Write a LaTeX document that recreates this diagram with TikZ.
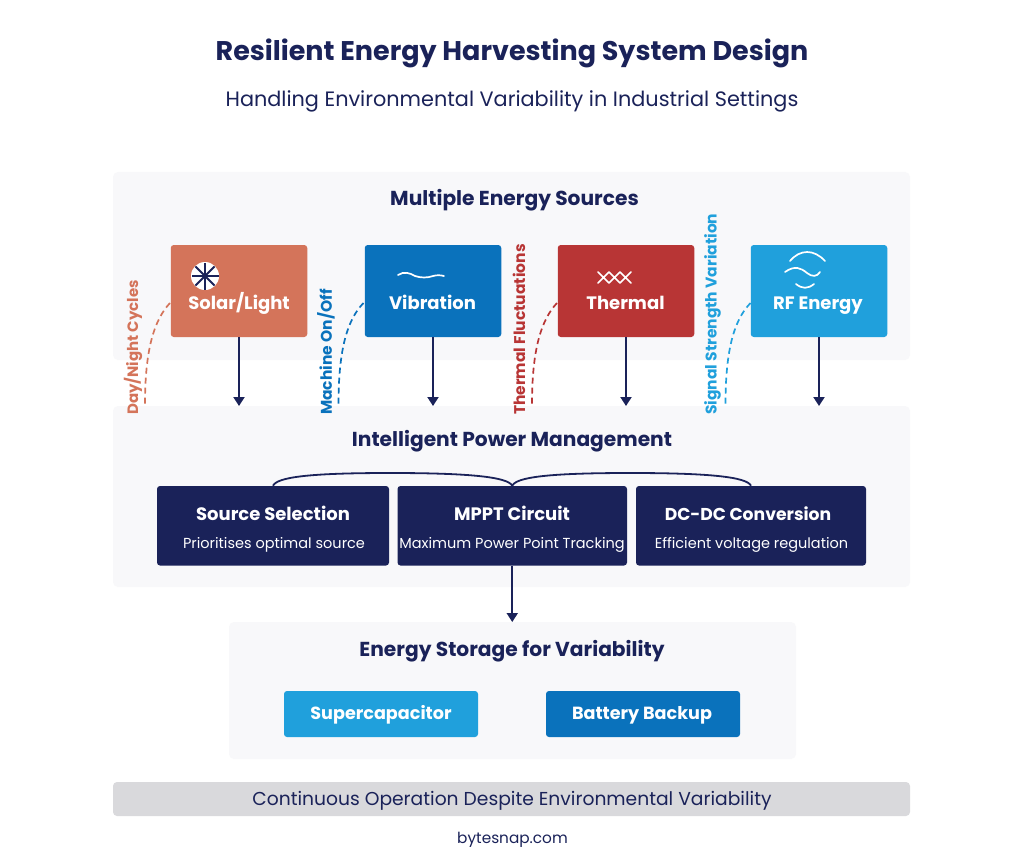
\documentclass[tikz,border=0pt]{standalone}
\usepackage{fontspec}
\setmainfont{Poppins}
\usetikzlibrary{arrows.meta}
\definecolor{navy}{HTML}{1A2259}
\definecolor{panelc}{HTML}{F8F8FA}
\definecolor{solarc}{HTML}{D4745A}
\definecolor{vibc}{HTML}{0A72BC}
\definecolor{thermc}{HTML}{B83535}
\definecolor{rfc}{HTML}{20A0DC}
\definecolor{barc}{HTML}{D9D9DC}
\tikzset{
 x=1pt,y=-1pt,
 txt/.style={inner sep=0pt,anchor=base},
 panel/.style={fill=panelc,rounded corners=5pt,draw=none},
 srcbox/.style={rounded corners=3pt,minimum width=136.5pt,minimum height=92pt,inner sep=0pt},
 srclabel/.style={txt,text=white,font=\fontsize{18}{22}\selectfont\bfseries},
 pmbox/.style={fill=navy,rounded corners=3pt,minimum height=79.5pt,inner sep=0pt},
 pmhead/.style={txt,text=white,font=\fontsize{18}{22}\selectfont\bfseries},
 pmsub/.style={txt,text=white,font=\fontsize{14.5}{18}\selectfont},
 storebox/.style={rounded corners=3pt,minimum width=194pt,minimum height=46pt,inner sep=0pt},
 storetext/.style={txt,text=white,font=\fontsize{17.6}{22}\selectfont\bfseries},
 heading/.style={txt,text=navy,font=\fontsize{20.2}{24}\selectfont\bfseries},
 flow/.style={draw=navy,line width=2pt,-{Triangle[length=9pt,width=11pt]}},
 varline/.style={line width=1.7pt,dash pattern=on 6pt off 4pt},
 varlabel/.style={rotate=90,font=\fontsize{15.5}{18}\selectfont\bfseries,inner sep=0pt,anchor=west},
 iconline/.style={draw=white,line width=1.7pt,line cap=round},
}
\begin{document}
\begin{tikzpicture}
\useasboundingbox (0,0) rectangle (1024,861);
\fill[white] (0,0) rectangle (1024,861);
% panels
\path[panel] (113,172) rectangle (910,360);
\path[panel] (113,406) rectangle (910,587);
\path[panel] (229,622) rectangle (796,759);
% titles
\node[txt,text=navy,font=\fontsize{27}{32}\selectfont\bfseries] (title) at (512,61) {Resilient Energy Harvesting System Design};
\node[txt,text=navy,font=\fontsize{20.8}{25}\selectfont] (subtitle) at (512,107) {Handling Environmental Variability in Industrial Settings};
\node[heading] (h1) at (514.5,205) {Multiple Energy Sources};
\node[heading] (h2) at (512,446) {Intelligent Power Management};
\node[heading] (h3) at (512,656) {Energy Storage for Variability};
% sources
\node[srcbox,fill=solarc] (solar) at (239,291) {};
\node[srcbox,fill=vibc] (vib) at (433,291) {};
\node[srcbox,fill=thermc] (therm) at (626,291) {};
\node[srcbox,fill=rfc] (rf) at (819,291) {};
\node[srclabel] (solart) at (239,309) {Solar/Light};
\node[srclabel] (vibt) at (432.5,309) {Vibration};
\node[srclabel] (thermt) at (625.5,309) {Thermal};
\node[srclabel] (rft) at (818,309) {RF Energy};
% icons
\fill[white] (205,276) circle (14);
\foreach \a in {0,45,90,135}{
 \draw[navy,line width=1.8pt] (205,276)+(\a:13.5) -- +(\a+180:13.5);
}
\draw[iconline] (398,275) .. controls (404,271) and (410,273) .. (415,276) .. controls (421,278) and (427,278) .. (433,276) .. controls (437,275) and (440,275) .. (444,276);
\draw[iconline] (598,272) -- (609,283) (609,272) -- (598,283)
 (609,272) -- (620,283) (620,272) -- (609,283) (620,272) -- (631,283) (631,272) -- (620,283);
\draw[iconline] (790,261) .. controls (800,249) and (814,249) .. (825,261);
\draw[iconline] (785,272) .. controls (795,265) and (801,268) .. (807,273) .. controls (812,277) and (817,277) .. (820,272);
\draw[iconline] (796,284) .. controls (802,289) and (808,289) .. (814,284);
% flows
\coordinate (in1) at (239,406);
\coordinate (in2) at (433,406);
\coordinate (in3) at (626,406);
\coordinate (in4) at (819,406);
\draw[flow] (solar.south) -- (in1);
\draw[flow] (vib.south) -- (in2);
\draw[flow] (therm.south) -- (in3);
\draw[flow] (rf.south) -- (in4);
% variability
\coordinate (s1) at (170,303); \coordinate (e1) at (145,404);
\coordinate (s2) at (363.5,303); \coordinate (e2) at (338.5,404);
\coordinate (s3) at (557,303); \coordinate (e3) at (532,404);
\coordinate (s4) at (750.5,303); \coordinate (e4) at (725.5,404);
\draw[varline,draw=solarc] (s1) .. controls (154,320) and (145,350) .. (e1);
\draw[varline,draw=vibc] (s2) .. controls (347,320) and (338.5,350) .. (e2);
\draw[varline,draw=thermc] (s3) .. controls (541,320) and (532,350) .. (e3);
\draw[varline,draw=rfc] (s4) .. controls (734,320) and (725.5,350) .. (e4);
\node[varlabel,text=solarc,font=\fontsize{15}{18}\selectfont\bfseries] (l1) at (133,415) {Day/Night Cycles};
\node[varlabel,text=vibc] (l2) at (326,415) {Machine On/Off};
\node[varlabel,text=thermc] (l3) at (519,415) {Thermal Fluctuations};
\node[varlabel,text=rfc] (l4) at (712.5,415) {Signal Strength Variation};
% power management
\node[pmbox,minimum width=232pt] (sel) at (273,525.75) {};
\node[pmbox,minimum width=229.5pt] (mppt) at (512.25,525.75) {};
\node[pmbox,minimum width=230pt] (dc) at (751,525.75) {};
\node[pmhead] (selh) at (273,520) {Source Selection};
\node[pmhead] (mppth) at (512,520) {MPPT Circuit};
\node[pmhead,font=\fontsize{17.2}{22}\selectfont\bfseries] (dch) at (748,520) {DC-DC Conversion};
\node[pmsub] (sels) at (274,548) {Prioritises optimal source};
\node[pmsub] (mppts) at (512,548) {Maximum Power Point Tracking};
\node[pmsub] (dcs) at (751.5,548) {Efficient voltage regulation};
\draw[navy,line width=1.8pt] (sel.north) .. controls (277,477) and (310,473) .. (390,473) .. controls (470,473) and (508,477) .. (mppt.north);
\draw[navy,line width=1.8pt] (mppt.north) .. controls (516,477) and (550,473) .. (630,473) .. controls (710,473) and (747,477) .. (dc.north);
% storage
\coordinate (in5) at (512.25,622);
\draw[flow] (mppt.south) -- (in5);
\node[storebox,fill=rfc] (sup) at (381,714) {};
\node[storebox,fill=vibc] (bat) at (643,714) {};
\node[storetext] (supt) at (381,719.5) {Supercapacitor};
\node[storetext] (batt) at (642,719.5) {Battery Backup};
% bar
\path[fill=barc,rounded corners=4pt] (113,782) rectangle (910,816);
\node[txt,text=navy,font=\fontsize{18.7}{22}\selectfont] (bart) at (512,805) {Continuous Operation Despite Environmental Variability};
\node[txt,text=navy,font=\fontsize{15.3}{18}\selectfont] (web) at (512.5,843) {bytesnap.com};
\end{tikzpicture}
\end{document}
